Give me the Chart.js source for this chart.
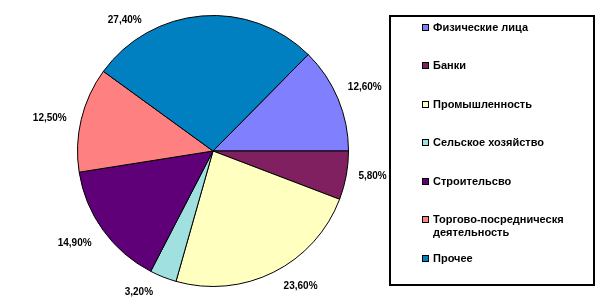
<!DOCTYPE html>
<html>
<head>
<meta charset="utf-8">
<script src="https://cdn.jsdelivr.net/npm/chart.js@4/dist/chart.umd.min.js"></script>
<style>
  html, body { margin: 0; padding: 0; background: #fff; }
  #wrap { position: relative; width: 603px; height: 303px; overflow: hidden; }
  #c { position: absolute; left: 0; top: 0; }
  #legend { position: absolute; left: 389px; top: 15px; width: 202px; height: 267px; border: 2px solid #000; box-sizing: content-box; }
  .item { position: absolute; left: 31px; font: bold 11px "Liberation Sans", Arial, sans-serif; color: #000; line-height: 13px; }
  .sw { position: absolute; left: 0; top: 3px; width: 5px; height: 5px; border: 1px solid #000; }
  .tx { position: absolute; left: 11px; top: 0; width: 158px; }
</style>
</head>
<body>
<div id="wrap">
  <canvas id="c" width="603" height="303"></canvas>
  <div id="legend"></div>
</div>
<script>
const categories = ["Физические лица", "Банки", "Промышленность", "Сельское хозяйство", "Строительсво", "Торгово-посредническя деятельность", "Прочее"];
const shares = [12.6, 5.8, 23.6, 3.2, 14.9, 12.5, 27.4];
const valueLabels = ["12,60%", "5,80%", "23,60%", "3,20%", "14,90%", "12,50%", "27,40%"];
const colors = ["#8080FF", "#802060", "#FFFFC0", "#A0E0E0", "#600078", "#FF8080", "#0080C0"];

// label placement tweaks relative to each slice (angle nudge in degrees, extra radius in px)
const labelAngleNudge = [0, -1.6, -6.2, 6.1, 2.0, -2.1, -29.4];
const labelExtra = [29, 26, 26, 24, 31, 31, 22];

const outsideLabels = {
  id: 'outsideLabels',
  afterDatasetsDraw(chart) {
    const ctx = chart.ctx;
    const meta = chart.getDatasetMeta(0);
    ctx.save();
    ctx.font = 'bold 10px "Liberation Sans", Arial, sans-serif';
    ctx.fillStyle = '#000';
    ctx.textAlign = 'center';
    ctx.textBaseline = 'middle';
    meta.data.forEach((arc, i) => {
      const p = arc.getProps(['x', 'y', 'startAngle', 'endAngle', 'outerRadius'], true);
      const mid = (p.startAngle + p.endAngle) / 2 + labelAngleNudge[i] * Math.PI / 180;
      const r = p.outerRadius + labelExtra[i];
      ctx.fillText(valueLabels[i], p.x + Math.cos(mid) * r, p.y + Math.sin(mid) * r);
    });
    ctx.restore();
  }
};

const chart = new Chart(document.getElementById('c'), {
  type: 'pie',
  data: {
    labels: categories,
    datasets: [{
      data: shares,
      backgroundColor: colors,
      borderColor: '#000',
      borderWidth: 1,
      hoverOffset: 0,
      offset: 0
    }]
  },
  options: {
    responsive: false,
    animation: false,
    rotation: 44.64,
    layout: { padding: { left: 77, top: 15, right: 254, bottom: 16 } },
    plugins: { legend: { display: false }, tooltip: { enabled: false } },
    events: []
  },
  plugins: [outsideLabels]
});

const legend = document.getElementById('legend');
categories.forEach((name, i) => {
  const it = document.createElement('div');
  it.className = 'item';
  it.style.top = (27 + i * 38.5 - 15 - 2 - 6.5) + 'px';
  const sw = document.createElement('div');
  sw.className = 'sw';
  sw.style.background = colors[i];
  const tx = document.createElement('div');
  tx.className = 'tx';
  tx.textContent = name;
  it.appendChild(sw);
  it.appendChild(tx);
  legend.appendChild(it);
});
</script>
</body>
</html>
